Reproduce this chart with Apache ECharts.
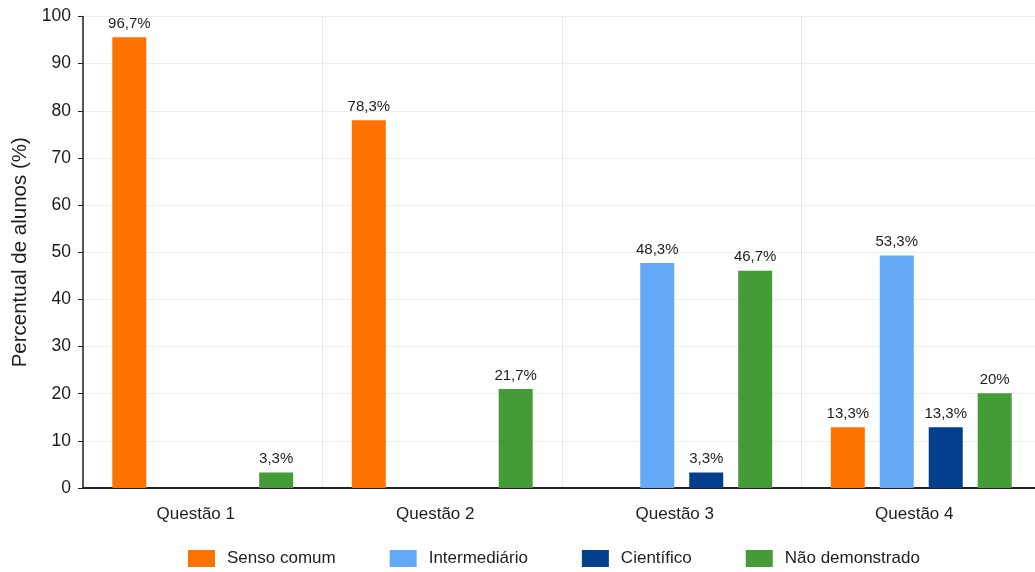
<!DOCTYPE html>
<html>
<head>
<meta charset="utf-8">
<script src="https://cdn.jsdelivr.net/npm/echarts@6/dist/echarts.min.js"></script>
<style>
html,body{margin:0;padding:0;background:#fff;}
#chart{width:1035px;height:572px;}
</style>
</head>
<body>
<div id="chart"></div>
<script>
var categories = ['Questão 1', 'Questão 2', 'Questão 3', 'Questão 4'];
var seriesNames = ['Senso comum', 'Intermediário', 'Científico', 'Não demonstrado'];
var sensoValues = [95.6, 78.0, null, 12.9];
var intermValues = [null, null, 47.7, 49.3];
var cientValues = [null, null, 3.3, 12.9];
var naoValues = [3.3, 21.0, 46.1, 20.1];
var sensoLabels = ['96,7%', '78,3%', '', '13,3%'];
var intermLabels = ['', '', '48,3%', '53,3%'];
var cientLabels = ['', '', '3,3%', '13,3%'];
var naoLabels = ['3,3%', '21,7%', '46,7%', '20%'];
var yTicks = [0, 10, 20, 30, 40, 50, 60, 70, 80, 90, 100];

var colors = ['#FF7200', '#64A9F6', '#023F8D', '#449C37'];
var FONT = '"Liberation Sans", Arial, Helvetica, sans-serif';

function mk(name, values, labels, color) {
  return {
    name: name,
    type: 'bar',
    data: values,
    barWidth: 34,
    barGap: '44%',
    itemStyle: { color: color },
    label: {
      show: true,
      position: 'top',
      distance: 6,
      fontFamily: FONT,
      fontSize: 15,
      color: '#1e1e1e',
      formatter: function (p) { return labels[p.dataIndex]; }
    }
  };
}

var chart = echarts.init(document.getElementById('chart'));
chart.setOption({
  animation: false,
  backgroundColor: '#fff',
  textStyle: { fontFamily: FONT },
  grid: { left: 83, width: 958, top: 16.5, bottom: 84, containLabel: false, outerBoundsMode: 'none' },
  legend: {
    data: seriesNames,
    left: 183,
    top: 545,
    itemWidth: 27,
    itemHeight: 17,
    itemGap: 54,
    icon: 'rect',
    textStyle: { fontFamily: FONT, fontSize: 17, color: '#1e1e1e', padding: [0, 0, 0, 7] }
  },
  xAxis: {
    type: 'category',
    data: categories,
    axisLine: { lineStyle: { color: '#222', width: 2 } },
    axisTick: { show: false },
    axisLabel: { fontFamily: FONT, fontSize: 17, color: '#1e1e1e', margin: 18, padding: [0, 14, 0, 0] },
    splitLine: { show: true, lineStyle: { color: '#e9e9e9', width: 1 } }
  },
  yAxis: {
    type: 'value',
    min: 0,
    max: 100,
    interval: 10,
    name: 'Percentual de alunos (%)',
    nameLocation: 'middle',
    nameGap: 52,
    nameTextStyle: { fontFamily: FONT, fontSize: 20.5, color: '#1e1e1e' },
    axisLine: { show: true, lineStyle: { color: '#222', width: 1.5 } },
    axisTick: { show: true, length: 5, lineStyle: { color: '#222' } },
    axisLabel: {
      fontFamily: FONT, fontSize: 17.5, color: '#1a1a1a', margin: 12,
      formatter: function (v) { return yTicks.indexOf(v) >= 0 ? String(v) : ''; }
    },
    splitLine: { show: true, lineStyle: { color: '#eeeeee', width: 1 } }
  },
  series: [
    mk(seriesNames[0], sensoValues, sensoLabels, colors[0]),
    mk(seriesNames[1], intermValues, intermLabels, colors[1]),
    mk(seriesNames[2], cientValues, cientLabels, colors[2]),
    mk(seriesNames[3], naoValues, naoLabels, colors[3])
  ]
});
</script>
</body>
</html>
